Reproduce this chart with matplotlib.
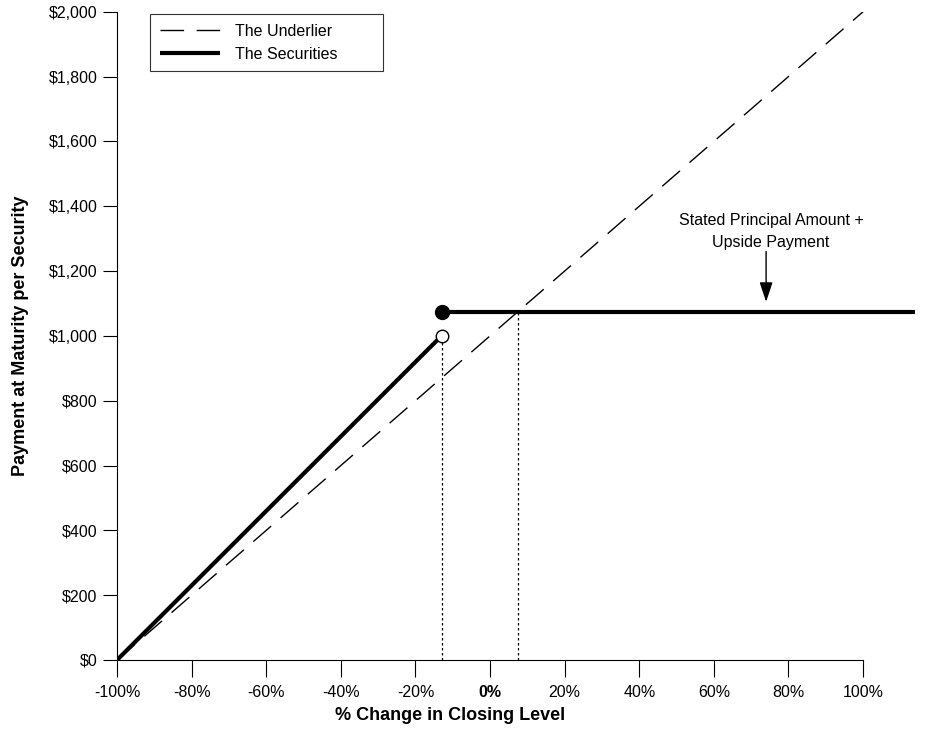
import numpy as np
import matplotlib.pyplot as plt

plt.rcParams['font.family'] = ['Liberation Sans', 'DejaVu Sans']

# payoff data (x in % change, y in $)
underlier_x = [-100, 100]
underlier_y = [0, 2000]
trigger_x = -13.0          # threshold where payoff jumps
upside_level = 1075        # stated principal + upside payment
cross_x = 7.5              # where underlier meets upside level
sec_low_x = [-100, trigger_x]
sec_low_y = [0, 1000]
sec_high_x = [trigger_x, 114]
sec_high_y = [upside_level, upside_level]

x_ticks = [-100, -80, -60, -40, -20, 0, 20, 40, 60, 80, 100]
x_labels = ['-100%', '-80%', '-60%', '-40%', '-20%', '0%', '20%', '40%', '60%', '80%', '100%']
y_ticks = list(range(0, 2001, 200))
y_labels = ['$' + format(v, ',') for v in y_ticks]

fig = plt.figure(figsize=(9.34, 7.33), dpi=100)
ax = fig.add_axes([0.1253, 0.0996, 0.98 - 0.1253, 0.984 - 0.0996])

ax.plot(underlier_x, underlier_y, color='black', lw=1.0, dashes=(17, 9), label='The Underlier')
ax.plot(sec_low_x, sec_low_y, color='black', lw=3.0, solid_capstyle='butt', label='The Securities')
ax.plot(sec_high_x, sec_high_y, color='black', lw=3.0, solid_capstyle='butt', clip_on=False)

# dotted guide lines
ax.plot([trigger_x, trigger_x], [0, 1000], color='black', lw=0.9, ls=(0, (2, 2)))
ax.plot([cross_x, cross_x], [0, upside_level], color='black', lw=0.9, ls=(0, (2, 2)))

# jump markers
ax.plot([trigger_x], [upside_level], 'o', color='black', ms=10, zorder=5)
ax.plot([trigger_x], [1000], 'o', mfc='white', mec='black', mew=1.0, ms=9, zorder=5)

# annotation + arrow
ax.text(75.3, 1265, 'Stated Principal Amount +\nUpside Payment', ha='center', va='bottom',
        fontsize=11.5, linespacing=1.55)
ax.annotate('', xy=(74, 1105), xytext=(74, 1260),
            arrowprops=dict(arrowstyle='-|>,head_width=0.4,head_length=1.2', color='black', lw=1.0,
                            shrinkA=0, shrinkB=0))

ax.set_xlim(-100, 114)
ax.set_ylim(0, 2000)
ax.set_xticks(x_ticks)
ax.set_xticklabels(x_labels, fontsize=11.5)
ax.get_xticklabels()[5].set_fontweight('bold')
ax.set_yticks(y_ticks)
ax.set_yticklabels(y_labels, fontsize=11.5)
ax.tick_params(axis='x', length=12, width=0.8, pad=6)
ax.tick_params(axis='y', length=10, width=0.8, pad=4)

for s in ['top', 'right']:
    ax.spines[s].set_visible(False)
ax.spines['bottom'].set_bounds(-100, 100)
ax.spines['left'].set_linewidth(0.8)
ax.spines['bottom'].set_linewidth(0.8)

ax.set_xlabel('% Change in Closing Level', fontsize=13, fontweight='bold', labelpad=5)
ax.xaxis.set_label_coords(0.417, -0.072)
ax.set_ylabel('Payment at Maturity per Security', fontsize=13, fontweight='bold', labelpad=14)

leg = ax.legend(loc='upper left', bbox_to_anchor=(0.0413, 0.9965, 0.292, 0.0), mode='expand',
                fontsize=11.5, frameon=True, fancybox=False, edgecolor='black',
                handlelength=3.8, borderpad=0.6, labelspacing=0.5, handletextpad=0.9,
                borderaxespad=0.0)
leg.get_frame().set_linewidth(0.8)

fig.savefig('out.png', dpi=100)
